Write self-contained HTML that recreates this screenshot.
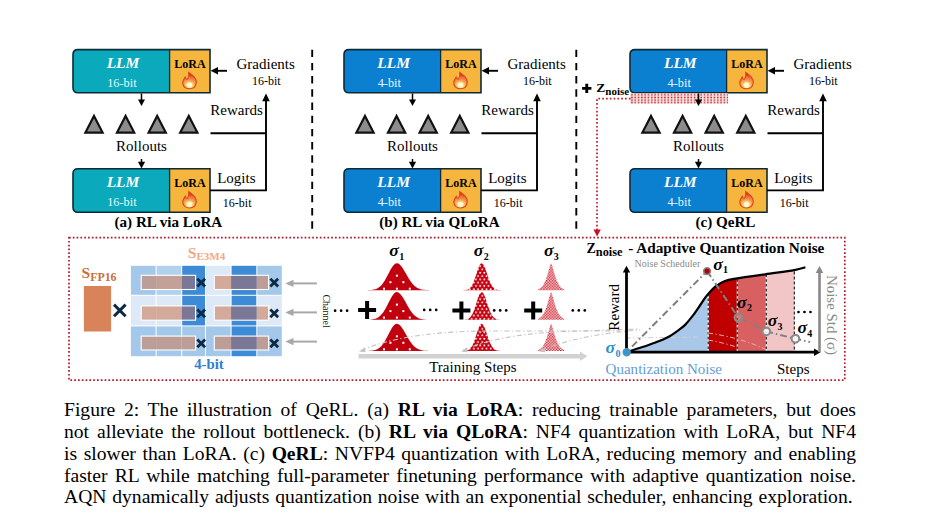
<!DOCTYPE html>
<html><head><meta charset="utf-8">
<style>
html,body{margin:0;padding:0;background:#fff;}
body{width:940px;height:525px;position:relative;overflow:hidden;font-family:"Liberation Serif",serif;}
svg{position:absolute;left:0;top:0;}
.cap{position:absolute;left:64px;width:792px;font-family:"Liberation Serif",serif;font-size:19.6px;line-height:21.85px;color:#000;white-space:nowrap;}
.cap div{text-align:justify;text-align-last:justify;height:21.85px;}
</style></head><body>
<svg width="940" height="525" viewBox="0 0 940 525" font-family="Liberation Serif, serif">
<defs>
  <radialGradient id="fg" cx="0" cy="4" r="10" gradientUnits="userSpaceOnUse">
    <stop offset="0" stop-color="#fffbe8"/><stop offset="0.2" stop-color="#ffe070"/><stop offset="0.45" stop-color="#f59a50"/><stop offset="0.75" stop-color="#ee6a3a"/><stop offset="1" stop-color="#d8361a"/>
  </radialGradient>
  <g id="flame">
    <path d="M-0.6,-8 C2.2,-5.5 5.6,-2.8 5.2,1.8 C4.8,5.8 2.4,7.6 0,7.6 C-2.6,7.6 -5.2,5.8 -5.2,2 C-5.2,-0.5 -4,-2 -3.3,-3.6 C-2.8,-2 -2.2,-1.2 -1.6,-1.6 C-0.6,-3.4 -0.2,-5.5 -0.6,-8 Z" fill="url(#fg)" stroke="#de4418" stroke-width="0.8"/>
    <ellipse cx="0" cy="4.2" rx="2.2" ry="2.6" fill="#fffbe0" opacity="0.85"/>
  </g>
  <pattern id="noisepat" width="3.3" height="2.6" patternUnits="userSpaceOnUse" x="630.3" y="93.6"><rect width="3.3" height="2.6" fill="#f8e2e2"/><circle cx="1.65" cy="1.3" r="0.78" fill="#cc1818"/></pattern>
</defs>

<path d="M78,49.6 H169.6 V92.8 H78 Q73,92.8 73,87.8 V54.6 Q73,49.6 78,49.6 Z" fill="#0aa9bb"/>
<rect x="169.6" y="49.6" width="40.400000000000006" height="43.199999999999996" fill="#f6b53c"/>
<path d="M78,49.6 H210 V92.8 H78 Q73,92.8 73,87.8 V54.6 Q73,49.6 78,49.6 Z" fill="none" stroke="#0e2a36" stroke-width="1.6"/>
<line x1="169.6" y1="49.6" x2="169.6" y2="92.8" stroke="#0e2a36" stroke-width="1.3"/>
<text x="123" y="67.6" font-size="15.5" text-anchor="middle" font-weight="bold" font-style="italic" fill="#fff" >LLM</text>
<text x="121.9" y="87.0" font-size="12.3" text-anchor="middle" font-weight="normal" font-style="normal" fill="#e8f8ff" >16-bit</text>
<text x="190.0" y="67.8" font-size="12" text-anchor="middle" font-weight="bold" font-style="normal" fill="#000" >LoRA</text>
<use href="#flame" transform="translate(189.5,80.8) scale(1.3,1.05)"/>
<path d="M78,168.8 H169.6 V212.3 H78 Q73,212.3 73,207.3 V173.8 Q73,168.8 78,168.8 Z" fill="#0aa9bb"/>
<rect x="169.6" y="168.8" width="40.400000000000006" height="43.5" fill="#f6b53c"/>
<path d="M78,168.8 H210 V212.3 H78 Q73,212.3 73,207.3 V173.8 Q73,168.8 78,168.8 Z" fill="none" stroke="#0e2a36" stroke-width="1.6"/>
<line x1="169.6" y1="168.8" x2="169.6" y2="212.3" stroke="#0e2a36" stroke-width="1.3"/>
<text x="123" y="186.8" font-size="15.5" text-anchor="middle" font-weight="bold" font-style="italic" fill="#fff" >LLM</text>
<text x="121.9" y="206.20000000000002" font-size="12.3" text-anchor="middle" font-weight="normal" font-style="normal" fill="#e8f8ff" >16-bit</text>
<text x="190.0" y="187.0" font-size="12" text-anchor="middle" font-weight="bold" font-style="normal" fill="#000" >LoRA</text>
<use href="#flame" transform="translate(189.5,200.0) scale(1.3,1.05)"/>
<line x1="141.5" y1="93.5" x2="141.5" y2="101" stroke="#000" stroke-width="1.5"/>
<path d="M138.0,99.6 L145.0,99.6 L141.5,106 Z" fill="#000"/>
<line x1="141.5" y1="159" x2="141.5" y2="164" stroke="#000" stroke-width="1.5"/>
<path d="M137.9,161.8 L145.1,161.8 L141.5,168.4 Z" fill="#000"/>
<line x1="227" y1="70.8" x2="215" y2="70.8" stroke="#000" stroke-width="1.9"/>
<path d="M218,67.0 L218,74.6 L210.6,70.8 Z" fill="#000"/>
<text x="236.5" y="69.3" font-size="15" text-anchor="start" font-weight="normal" font-style="normal" fill="#000" >Gradients</text>
<text x="252" y="85" font-size="12" text-anchor="start" font-weight="normal" font-style="normal" fill="#000" >16-bit</text>
<path d="M94,116 L102.6,132.6 L85.4,132.6 Z" fill="#8c8c8c" stroke="#111" stroke-width="2.2" stroke-linejoin="miter"/>
<path d="M125.6,116 L134.2,132.6 L117.0,132.6 Z" fill="#8c8c8c" stroke="#111" stroke-width="2.2" stroke-linejoin="miter"/>
<path d="M157.2,116 L165.79999999999998,132.6 L148.6,132.6 Z" fill="#8c8c8c" stroke="#111" stroke-width="2.2" stroke-linejoin="miter"/>
<path d="M188.8,116 L197.4,132.6 L180.20000000000002,132.6 Z" fill="#8c8c8c" stroke="#111" stroke-width="2.2" stroke-linejoin="miter"/>
<text x="210.3" y="114.5" font-size="15" text-anchor="start" font-weight="normal" font-style="normal" fill="#000" >Rewards</text>
<text x="141.5" y="150.6" font-size="15" text-anchor="middle" font-weight="normal" font-style="normal" fill="#000" >Rollouts</text>
<path d="M210,190.4 H266 V98" fill="none" stroke="#000" stroke-width="1.9"/>
<path d="M262.2,101.2 L269.8,101.2 L266,93.5 Z" fill="#000"/>
<line x1="210.5" y1="133.2" x2="266" y2="133.2" stroke="#000" stroke-width="1.9"/>
<text x="217.2" y="183.4" font-size="15" text-anchor="start" font-weight="normal" font-style="normal" fill="#000" >Logits</text>
<text x="222.8" y="207.3" font-size="12" text-anchor="start" font-weight="normal" font-style="normal" fill="#000" >16-bit</text>
<text x="168.4" y="227.2" font-size="15.1" text-anchor="middle" font-weight="bold" font-style="normal" fill="#000" >(a) RL via LoRA</text>
<path d="M349,49.6 H440.6 V92.8 H349 Q344,92.8 344,87.8 V54.6 Q344,49.6 349,49.6 Z" fill="#0b80d0"/>
<rect x="440.6" y="49.6" width="40.39999999999998" height="43.199999999999996" fill="#f6b53c"/>
<path d="M349,49.6 H481 V92.8 H349 Q344,92.8 344,87.8 V54.6 Q344,49.6 349,49.6 Z" fill="none" stroke="#0e2a36" stroke-width="1.6"/>
<line x1="440.6" y1="49.6" x2="440.6" y2="92.8" stroke="#0e2a36" stroke-width="1.3"/>
<text x="393.6" y="67.6" font-size="15.5" text-anchor="middle" font-weight="bold" font-style="italic" fill="#fff" >LLM</text>
<text x="389.3" y="87.0" font-size="12.3" text-anchor="middle" font-weight="normal" font-style="normal" fill="#e8f8ff" >4-bit</text>
<text x="461.0" y="67.8" font-size="12" text-anchor="middle" font-weight="bold" font-style="normal" fill="#000" >LoRA</text>
<use href="#flame" transform="translate(460.5,80.8) scale(1.3,1.05)"/>
<path d="M349,168.8 H440.6 V212.3 H349 Q344,212.3 344,207.3 V173.8 Q344,168.8 349,168.8 Z" fill="#0b80d0"/>
<rect x="440.6" y="168.8" width="40.39999999999998" height="43.5" fill="#f6b53c"/>
<path d="M349,168.8 H481 V212.3 H349 Q344,212.3 344,207.3 V173.8 Q344,168.8 349,168.8 Z" fill="none" stroke="#0e2a36" stroke-width="1.6"/>
<line x1="440.6" y1="168.8" x2="440.6" y2="212.3" stroke="#0e2a36" stroke-width="1.3"/>
<text x="393.6" y="186.8" font-size="15.5" text-anchor="middle" font-weight="bold" font-style="italic" fill="#fff" >LLM</text>
<text x="389.3" y="206.20000000000002" font-size="12.3" text-anchor="middle" font-weight="normal" font-style="normal" fill="#e8f8ff" >4-bit</text>
<text x="461.0" y="187.0" font-size="12" text-anchor="middle" font-weight="bold" font-style="normal" fill="#000" >LoRA</text>
<use href="#flame" transform="translate(460.5,200.0) scale(1.3,1.05)"/>
<line x1="412.5" y1="93.5" x2="412.5" y2="101" stroke="#000" stroke-width="1.5"/>
<path d="M409.0,99.6 L416.0,99.6 L412.5,106 Z" fill="#000"/>
<line x1="412.5" y1="159" x2="412.5" y2="164" stroke="#000" stroke-width="1.5"/>
<path d="M408.9,161.8 L416.1,161.8 L412.5,168.4 Z" fill="#000"/>
<line x1="498" y1="70.8" x2="486" y2="70.8" stroke="#000" stroke-width="1.9"/>
<path d="M489,67.0 L489,74.6 L481.6,70.8 Z" fill="#000"/>
<text x="507.5" y="69.3" font-size="15" text-anchor="start" font-weight="normal" font-style="normal" fill="#000" >Gradients</text>
<text x="523" y="85" font-size="12" text-anchor="start" font-weight="normal" font-style="normal" fill="#000" >16-bit</text>
<path d="M365,116 L373.6,132.6 L356.4,132.6 Z" fill="#8c8c8c" stroke="#111" stroke-width="2.2" stroke-linejoin="miter"/>
<path d="M396.6,116 L405.20000000000005,132.6 L388.0,132.6 Z" fill="#8c8c8c" stroke="#111" stroke-width="2.2" stroke-linejoin="miter"/>
<path d="M428.2,116 L436.8,132.6 L419.59999999999997,132.6 Z" fill="#8c8c8c" stroke="#111" stroke-width="2.2" stroke-linejoin="miter"/>
<path d="M459.8,116 L468.40000000000003,132.6 L451.2,132.6 Z" fill="#8c8c8c" stroke="#111" stroke-width="2.2" stroke-linejoin="miter"/>
<text x="481.3" y="114.5" font-size="15" text-anchor="start" font-weight="normal" font-style="normal" fill="#000" >Rewards</text>
<text x="412.5" y="150.6" font-size="15" text-anchor="middle" font-weight="normal" font-style="normal" fill="#000" >Rollouts</text>
<path d="M481,190.4 H537 V98" fill="none" stroke="#000" stroke-width="1.9"/>
<path d="M533.2,101.2 L540.8,101.2 L537,93.5 Z" fill="#000"/>
<line x1="481.5" y1="133.2" x2="537" y2="133.2" stroke="#000" stroke-width="1.9"/>
<text x="488.2" y="183.4" font-size="15" text-anchor="start" font-weight="normal" font-style="normal" fill="#000" >Logits</text>
<text x="493.8" y="207.3" font-size="12" text-anchor="start" font-weight="normal" font-style="normal" fill="#000" >16-bit</text>
<text x="439.4" y="227.2" font-size="15.1" text-anchor="middle" font-weight="bold" font-style="normal" fill="#000" >(b) RL via QLoRA</text>
<path d="M635,49.6 H726.6 V92.8 H635 Q630,92.8 630,87.8 V54.6 Q630,49.6 635,49.6 Z" fill="#0b80d0"/>
<rect x="726.6" y="49.6" width="40.39999999999998" height="43.199999999999996" fill="#f6b53c"/>
<path d="M635,49.6 H767 V92.8 H635 Q630,92.8 630,87.8 V54.6 Q630,49.6 635,49.6 Z" fill="none" stroke="#0e2a36" stroke-width="1.6"/>
<line x1="726.6" y1="49.6" x2="726.6" y2="92.8" stroke="#0e2a36" stroke-width="1.3"/>
<text x="680.3" y="67.6" font-size="15.5" text-anchor="middle" font-weight="bold" font-style="italic" fill="#fff" >LLM</text>
<text x="679.2" y="87.0" font-size="12.3" text-anchor="middle" font-weight="normal" font-style="normal" fill="#e8f8ff" >4-bit</text>
<text x="747.0" y="67.8" font-size="12" text-anchor="middle" font-weight="bold" font-style="normal" fill="#000" >LoRA</text>
<use href="#flame" transform="translate(746.5,80.8) scale(1.3,1.05)"/>
<rect x="630" y="93.3" width="98.10000000000002" height="10.5" fill="url(#noisepat)"/>
<path d="M635,168.8 H726.6 V212.3 H635 Q630,212.3 630,207.3 V173.8 Q630,168.8 635,168.8 Z" fill="#0b80d0"/>
<rect x="726.6" y="168.8" width="40.39999999999998" height="43.5" fill="#f6b53c"/>
<path d="M635,168.8 H767 V212.3 H635 Q630,212.3 630,207.3 V173.8 Q630,168.8 635,168.8 Z" fill="none" stroke="#0e2a36" stroke-width="1.6"/>
<line x1="726.6" y1="168.8" x2="726.6" y2="212.3" stroke="#0e2a36" stroke-width="1.3"/>
<text x="680.3" y="186.8" font-size="15.5" text-anchor="middle" font-weight="bold" font-style="italic" fill="#fff" >LLM</text>
<text x="679.2" y="206.20000000000002" font-size="12.3" text-anchor="middle" font-weight="normal" font-style="normal" fill="#e8f8ff" >4-bit</text>
<text x="747.0" y="187.0" font-size="12" text-anchor="middle" font-weight="bold" font-style="normal" fill="#000" >LoRA</text>
<use href="#flame" transform="translate(746.5,200.0) scale(1.3,1.05)"/>
<line x1="698.5" y1="93.5" x2="698.5" y2="101" stroke="#000" stroke-width="1.5"/>
<path d="M695.0,99.6 L702.0,99.6 L698.5,106 Z" fill="#000"/>
<line x1="698.5" y1="159" x2="698.5" y2="164" stroke="#000" stroke-width="1.5"/>
<path d="M694.9,161.8 L702.1,161.8 L698.5,168.4 Z" fill="#000"/>
<line x1="784" y1="70.8" x2="772" y2="70.8" stroke="#000" stroke-width="1.9"/>
<path d="M775,67.0 L775,74.6 L767.6,70.8 Z" fill="#000"/>
<text x="793.5" y="69.3" font-size="15" text-anchor="start" font-weight="normal" font-style="normal" fill="#000" >Gradients</text>
<text x="809" y="85" font-size="12" text-anchor="start" font-weight="normal" font-style="normal" fill="#000" >16-bit</text>
<path d="M651,116 L659.6,132.6 L642.4,132.6 Z" fill="#8c8c8c" stroke="#111" stroke-width="2.2" stroke-linejoin="miter"/>
<path d="M682.6,116 L691.2,132.6 L674.0,132.6 Z" fill="#8c8c8c" stroke="#111" stroke-width="2.2" stroke-linejoin="miter"/>
<path d="M714.2,116 L722.8000000000001,132.6 L705.6,132.6 Z" fill="#8c8c8c" stroke="#111" stroke-width="2.2" stroke-linejoin="miter"/>
<path d="M745.8,116 L754.4,132.6 L737.1999999999999,132.6 Z" fill="#8c8c8c" stroke="#111" stroke-width="2.2" stroke-linejoin="miter"/>
<text x="767.3" y="114.5" font-size="15" text-anchor="start" font-weight="normal" font-style="normal" fill="#000" >Rewards</text>
<text x="698.5" y="150.6" font-size="15" text-anchor="middle" font-weight="normal" font-style="normal" fill="#000" >Rollouts</text>
<path d="M767,190.4 H823 V98" fill="none" stroke="#000" stroke-width="1.9"/>
<path d="M819.2,101.2 L826.8,101.2 L823,93.5 Z" fill="#000"/>
<line x1="767.5" y1="133.2" x2="823" y2="133.2" stroke="#000" stroke-width="1.9"/>
<text x="774.2" y="183.4" font-size="15" text-anchor="start" font-weight="normal" font-style="normal" fill="#000" >Logits</text>
<text x="779.8" y="207.3" font-size="12" text-anchor="start" font-weight="normal" font-style="normal" fill="#000" >16-bit</text>
<text x="725.4" y="227.2" font-size="15.1" text-anchor="middle" font-weight="bold" font-style="normal" fill="#000" >(c) QeRL</text>
<line x1="312.2" y1="49.7" x2="312.2" y2="231" stroke="#000" stroke-width="1.9" stroke-dasharray="7.4,5.8"/>
<line x1="576.3" y1="49.7" x2="576.3" y2="231" stroke="#000" stroke-width="1.9" stroke-dasharray="7.4,5.8"/>
<path d="M582.1,88.4 H591.4 M586.75,83.7 V93.0" stroke="#000" stroke-width="2.9"/>
<text x="596.3" y="91.7" font-size="13.5" font-weight="bold">Z<tspan font-size="11" dy="3.3">noise</tspan></text>
<path d="M630.5,98.6 H597 V230" fill="none" stroke="#c0202a" stroke-width="1.7" stroke-dasharray="1.7,2.1"/>
<path d="M593.4,229.6 L600.8,229.6 L597.1,236.6 Z" fill="#c8102a"/>
<rect x="69" y="237.6" width="775.8" height="142.5" fill="none" stroke="#b3182a" stroke-width="1.7" stroke-dasharray="1.7,2.1"/>
<text x="81.5" y="277.8" font-size="15.5" font-weight="bold" fill="#c8703c">S<tspan font-size="11.9" dy="2.7">FP16</tspan></text>
<rect x="83.9" y="286" width="27.2" height="45.5" fill="#d9835a"/>
<path d="M114.0,304.59999999999997 L125.6,316.2 M125.6,304.59999999999997 L114.0,316.2" stroke="#0d2a42" stroke-width="3.0"/>
<text x="187.8" y="257.9" font-size="15.5" font-weight="bold" fill="#f0a888">S<tspan font-size="11" dy="2.5">E3M4</tspan></text>
<rect x="130.9" y="265.8" width="24.70" height="29.00" fill="#a4c8ea"/>
<rect x="156.6" y="265.8" width="24.60" height="29.00" fill="#b2d1ee"/>
<rect x="182.2" y="265.8" width="22.80" height="29.00" fill="#3d8bd6"/>
<rect x="206.0" y="265.8" width="24.60" height="29.00" fill="#dde9f6"/>
<rect x="231.6" y="265.8" width="24.70" height="29.00" fill="#3d8bd6"/>
<rect x="257.3" y="265.8" width="24.50" height="29.00" fill="#a4c8ea"/>
<rect x="130.9" y="295.8" width="24.70" height="29.60" fill="#dde9f6"/>
<rect x="156.6" y="295.8" width="24.60" height="29.60" fill="#dde9f6"/>
<rect x="182.2" y="295.8" width="22.80" height="29.60" fill="#3d8bd6"/>
<rect x="206.0" y="295.8" width="24.60" height="29.60" fill="#dde9f6"/>
<rect x="231.6" y="295.8" width="24.70" height="29.60" fill="#3d8bd6"/>
<rect x="257.3" y="295.8" width="24.50" height="29.60" fill="#dde9f6"/>
<rect x="130.9" y="326.4" width="24.70" height="29.80" fill="#a4c8ea"/>
<rect x="156.6" y="326.4" width="24.60" height="29.80" fill="#a4c8ea"/>
<rect x="182.2" y="326.4" width="22.80" height="29.80" fill="#a4c8ea"/>
<rect x="206.0" y="326.4" width="24.60" height="29.80" fill="#a4c8ea"/>
<rect x="231.6" y="326.4" width="24.70" height="29.80" fill="#3d8bd6"/>
<rect x="257.3" y="326.4" width="24.50" height="29.80" fill="#a4c8ea"/>
<rect x="141.20" y="275.3" width="14.90" height="14.20" fill="#bd9d97"/>
<rect x="156.10" y="275.3" width="25.60" height="14.20" fill="#c3a098"/>
<rect x="181.70" y="275.3" width="13.90" height="14.20" fill="#7a7896"/>
<rect x="141.2" y="275.3" width="54.40" height="14.20" fill="none" stroke="#fff" stroke-width="1.1"/>
<path d="M197.29999999999998,278.8 L205.1,286.59999999999997 M205.1,278.8 L197.29999999999998,286.59999999999997" stroke="#0d2a42" stroke-width="2.8"/>
<rect x="214.30" y="275.3" width="16.80" height="14.20" fill="#d3a99b"/>
<rect x="231.10" y="275.3" width="25.70" height="14.20" fill="#7a7896"/>
<rect x="256.80" y="275.3" width="11.80" height="14.20" fill="#bd9d97"/>
<rect x="214.3" y="275.3" width="54.30" height="14.20" fill="none" stroke="#fff" stroke-width="1.1"/>
<path d="M270.30000000000007,278.8 L278.1,286.59999999999997 M278.1,278.8 L270.30000000000007,286.59999999999997" stroke="#0d2a42" stroke-width="2.8"/>
<rect x="141.20" y="305.9" width="14.90" height="14.30" fill="#d3a99b"/>
<rect x="156.10" y="305.9" width="25.60" height="14.30" fill="#d3a99b"/>
<rect x="181.70" y="305.9" width="13.90" height="14.30" fill="#7a7896"/>
<rect x="141.2" y="305.9" width="54.40" height="14.30" fill="none" stroke="#fff" stroke-width="1.1"/>
<path d="M197.29999999999998,309.45 L205.1,317.24999999999994 M205.1,309.45 L197.29999999999998,317.24999999999994" stroke="#0d2a42" stroke-width="2.8"/>
<rect x="214.30" y="305.9" width="16.80" height="14.30" fill="#d3a99b"/>
<rect x="231.10" y="305.9" width="25.70" height="14.30" fill="#7a7896"/>
<rect x="256.80" y="305.9" width="11.80" height="14.30" fill="#d3a99b"/>
<rect x="214.3" y="305.9" width="54.30" height="14.30" fill="none" stroke="#fff" stroke-width="1.1"/>
<path d="M270.30000000000007,309.45 L278.1,317.24999999999994 M278.1,309.45 L270.30000000000007,317.24999999999994" stroke="#0d2a42" stroke-width="2.8"/>
<rect x="141.20" y="336.1" width="14.90" height="13.90" fill="#bd9d97"/>
<rect x="156.10" y="336.1" width="25.60" height="13.90" fill="#bd9d97"/>
<rect x="181.70" y="336.1" width="13.90" height="13.90" fill="#bd9d97"/>
<rect x="141.2" y="336.1" width="54.40" height="13.90" fill="none" stroke="#fff" stroke-width="1.1"/>
<path d="M197.29999999999998,339.45000000000005 L205.1,347.25 M205.1,339.45000000000005 L197.29999999999998,347.25" stroke="#0d2a42" stroke-width="2.8"/>
<rect x="214.30" y="336.1" width="16.80" height="13.90" fill="#bd9d97"/>
<rect x="231.10" y="336.1" width="25.70" height="13.90" fill="#7a7896"/>
<rect x="256.80" y="336.1" width="11.80" height="13.90" fill="#bd9d97"/>
<rect x="214.3" y="336.1" width="54.30" height="13.90" fill="none" stroke="#fff" stroke-width="1.1"/>
<path d="M270.30000000000007,339.45000000000005 L278.1,347.25 M278.1,339.45000000000005 L270.30000000000007,347.25" stroke="#0d2a42" stroke-width="2.8"/>
<text x="194.2" y="369.2" font-size="14.8" font-weight="bold" fill="#2f80cc">4-bit</text>
<line x1="316.9" y1="283.4" x2="291" y2="283.4" stroke="#a8a8a8" stroke-width="2"/>
<path d="M293.5,279.79999999999995 L293.5,287.0 L285.3,283.4 Z" fill="#a8a8a8"/>
<line x1="316.9" y1="312.4" x2="291" y2="312.4" stroke="#a8a8a8" stroke-width="2"/>
<path d="M293.5,308.79999999999995 L293.5,316.0 L285.3,312.4 Z" fill="#a8a8a8"/>
<line x1="316.9" y1="341.6" x2="291" y2="341.6" stroke="#a8a8a8" stroke-width="2"/>
<path d="M293.5,338.0 L293.5,345.20000000000005 L285.3,341.6 Z" fill="#a8a8a8"/>
<text x="0" y="0" font-size="10" transform="translate(323.4,294.4) rotate(90)" fill="#111">Channel</text>
<circle cx="335.1" cy="310.7" r="1.35" fill="#000"/>
<circle cx="341.1" cy="310.7" r="1.35" fill="#000"/>
<circle cx="347.1" cy="310.7" r="1.35" fill="#000"/>
<path d="M358.1,309.9 H376.1 M367.1,300.9 V318.9" stroke="#000" stroke-width="4"/>
<path d="M452.4,310.4 H470.4 M461.4,301.4 V319.4" stroke="#000" stroke-width="4"/>
<path d="M524.2,310.4 H542.2 M533.2,301.4 V319.4" stroke="#000" stroke-width="4"/>
<circle cx="424.2" cy="309.9" r="1.35" fill="#000"/>
<circle cx="430.2" cy="309.9" r="1.35" fill="#000"/>
<circle cx="436.2" cy="309.9" r="1.35" fill="#000"/>
<circle cx="494.2" cy="310.4" r="1.35" fill="#000"/>
<circle cx="500.2" cy="310.4" r="1.35" fill="#000"/>
<circle cx="506.2" cy="310.4" r="1.35" fill="#000"/>
<circle cx="572.8" cy="310.4" r="1.35" fill="#000"/>
<circle cx="578.8" cy="310.4" r="1.35" fill="#000"/>
<circle cx="584.8" cy="310.4" r="1.35" fill="#000"/>
<defs>
<pattern id="p2" width="4.2" height="6.6" patternUnits="userSpaceOnUse" x="0.3" y="0.5"><rect width="4.2" height="6.6" fill="#c4000e"/><circle cx="1.05" cy="1.65" r="0.95" fill="#fff"/><circle cx="3.15" cy="4.95" r="0.95" fill="#fff"/></pattern>
<pattern id="p3" width="2.8" height="2.8" patternUnits="userSpaceOnUse"><rect width="2.8" height="2.8" fill="#fff"/><rect width="1.5" height="1.5" fill="#d01020"/><rect x="1.4" y="1.4" width="1.5" height="1.5" fill="#d01020"/></pattern>
</defs>
<path d="M364.8,290.2 L365.80,290.17 L367.16,290.15 L368.51,290.11 L369.87,290.04 L371.23,289.94 L372.58,289.78 L373.94,289.54 L375.29,289.18 L376.65,288.68 L378.01,287.99 L379.36,287.07 L380.72,285.88 L382.08,284.39 L383.43,282.59 L384.79,280.49 L386.14,278.12 L387.50,275.57 L388.86,272.94 L390.21,270.35 L391.57,267.96 L392.93,265.93 L394.28,264.39 L395.64,263.46 L396.99,263.21 L398.35,263.58 L399.71,264.50 L401.06,265.93 L402.42,267.76 L403.78,269.89 L405.13,272.22 L406.49,274.62 L407.84,276.98 L409.20,279.23 L410.56,281.29 L411.91,283.11 L413.27,284.68 L414.62,286.00 L415.98,287.07 L417.34,287.92 L418.69,288.57 L420.05,289.06 L421.41,289.42 L422.76,289.68 L424.12,289.86 L425.48,289.98 L426.83,290.06 L428.19,290.12 L429.54,290.15 L430.90,290.17 L431.90000000000003,290.2 Z" fill="#c0000e"/>
<rect x="395.9" y="274.7" width="2" height="2" fill="#fff"/>
<rect x="389.45" y="281.2" width="2" height="2" fill="#fff"/>
<rect x="402.34999999999997" y="281.2" width="2" height="2" fill="#fff"/>
<rect x="383.0" y="287.7" width="2" height="2" fill="#fff"/>
<rect x="395.9" y="287.7" width="2" height="2" fill="#fff"/>
<rect x="408.79999999999995" y="287.7" width="2" height="2" fill="#fff"/>
<path d="M462.1,290.2 L463.10,290.15 L463.89,290.12 L464.68,290.06 L465.47,289.98 L466.26,289.85 L467.05,289.66 L467.84,289.39 L468.63,289.00 L469.42,288.46 L470.21,287.75 L471.00,286.82 L471.79,285.64 L472.58,284.20 L473.37,282.48 L474.16,280.49 L474.95,278.28 L475.74,275.89 L476.53,273.41 L477.32,270.95 L478.11,268.64 L478.90,266.60 L479.69,264.96 L480.48,263.82 L481.27,263.25 L482.06,263.30 L482.85,263.90 L483.64,265.02 L484.43,266.60 L485.22,268.54 L486.01,270.72 L486.80,273.05 L487.59,275.42 L488.38,277.72 L489.17,279.88 L489.96,281.85 L490.75,283.58 L491.54,285.06 L492.33,286.29 L493.12,287.29 L493.91,288.08 L494.70,288.68 L495.49,289.14 L496.28,289.47 L497.07,289.71 L497.86,289.88 L498.65,289.99 L499.44,290.07 L500.23,290.12 L501.03,290.15 L502.02500000000003,290.2 Z" fill="url(#p2)"/>
<path d="M537.7,290.2 L538.70,288.93 L539.22,288.69 L539.73,288.40 L540.25,288.07 L540.77,287.68 L541.28,287.23 L541.80,286.71 L542.32,286.11 L542.83,285.43 L543.35,284.66 L543.87,283.79 L544.38,282.82 L544.90,281.73 L545.42,280.53 L545.93,279.20 L546.45,277.76 L546.97,276.21 L547.48,274.55 L548.00,272.80 L548.52,270.99 L549.03,269.15 L549.55,267.34 L550.07,265.63 L550.58,264.15 L551.10,263.20 L551.62,264.15 L552.13,265.63 L552.65,267.34 L553.17,269.15 L553.68,270.99 L554.20,272.80 L554.72,274.55 L555.23,276.21 L555.75,277.76 L556.27,279.20 L556.78,280.53 L557.30,281.73 L557.82,282.82 L558.33,283.79 L558.85,284.66 L559.37,285.43 L559.88,286.11 L560.40,286.71 L560.92,287.23 L561.43,287.68 L561.95,288.07 L562.47,288.40 L562.98,288.69 L563.50,288.93 L564.5,290.2 Z" fill="url(#p3)"/>
<path d="M364.8,319.8 L365.80,319.77 L367.16,319.75 L368.51,319.70 L369.87,319.64 L371.23,319.53 L372.58,319.37 L373.94,319.12 L375.29,318.76 L376.65,318.24 L378.01,317.53 L379.36,316.59 L380.72,315.37 L382.08,313.84 L383.43,311.99 L384.79,309.84 L386.14,307.41 L387.50,304.79 L388.86,302.09 L390.21,299.43 L391.57,296.98 L392.93,294.90 L394.28,293.32 L395.64,292.36 L396.99,292.11 L398.35,292.49 L399.71,293.44 L401.06,294.90 L402.42,296.78 L403.78,298.97 L405.13,301.35 L406.49,303.81 L407.84,306.24 L409.20,308.54 L410.56,310.65 L411.91,312.53 L413.27,314.14 L414.62,315.49 L415.98,316.59 L417.34,317.46 L418.69,318.13 L420.05,318.63 L421.41,319.00 L422.76,319.27 L424.12,319.45 L425.48,319.58 L426.83,319.66 L428.19,319.71 L429.54,319.75 L430.90,319.77 L431.90000000000003,319.8 Z" fill="#c0000e"/>
<rect x="395.9" y="303.6" width="2" height="2" fill="#fff"/>
<rect x="389.45" y="310.1" width="2" height="2" fill="#fff"/>
<rect x="402.34999999999997" y="310.1" width="2" height="2" fill="#fff"/>
<rect x="383.0" y="316.6" width="2" height="2" fill="#fff"/>
<rect x="395.9" y="316.6" width="2" height="2" fill="#fff"/>
<rect x="408.79999999999995" y="316.6" width="2" height="2" fill="#fff"/>
<path d="M462.1,319.8 L463.10,319.75 L463.89,319.72 L464.68,319.66 L465.47,319.57 L466.26,319.44 L467.05,319.25 L467.84,318.96 L468.63,318.56 L469.42,318.02 L470.21,317.28 L471.00,316.33 L471.79,315.12 L472.58,313.64 L473.37,311.88 L474.16,309.84 L474.95,307.57 L475.74,305.12 L476.53,302.57 L477.32,300.05 L478.11,297.68 L478.90,295.59 L479.69,293.90 L480.48,292.73 L481.27,292.15 L482.06,292.20 L482.85,292.82 L483.64,293.97 L484.43,295.59 L485.22,297.57 L486.01,299.82 L486.80,302.21 L487.59,304.63 L488.38,307.00 L489.17,309.21 L489.96,311.23 L490.75,313.01 L491.54,314.52 L492.33,315.79 L493.12,316.81 L493.91,317.62 L494.70,318.25 L495.49,318.71 L496.28,319.06 L497.07,319.30 L497.86,319.47 L498.65,319.59 L499.44,319.67 L500.23,319.72 L501.03,319.75 L502.02500000000003,319.8 Z" fill="url(#p2)"/>
<path d="M537.7,319.8 L538.70,318.50 L539.22,318.25 L539.73,317.95 L540.25,317.61 L540.77,317.21 L541.28,316.75 L541.80,316.22 L542.32,315.61 L542.83,314.91 L543.35,314.12 L543.87,313.23 L544.38,312.23 L544.90,311.11 L545.42,309.88 L545.93,308.52 L546.45,307.04 L546.97,305.44 L547.48,303.74 L548.00,301.95 L548.52,300.09 L549.03,298.21 L549.55,296.35 L550.07,294.59 L550.58,293.07 L551.10,292.10 L551.62,293.07 L552.13,294.59 L552.65,296.35 L553.17,298.21 L553.68,300.09 L554.20,301.95 L554.72,303.74 L555.23,305.44 L555.75,307.04 L556.27,308.52 L556.78,309.88 L557.30,311.11 L557.82,312.23 L558.33,313.23 L558.85,314.12 L559.37,314.91 L559.88,315.61 L560.40,316.22 L560.92,316.75 L561.43,317.21 L561.95,317.61 L562.47,317.95 L562.98,318.25 L563.50,318.50 L564.5,319.8 Z" fill="url(#p3)"/>
<path d="M364.8,351.0 L365.80,350.97 L367.16,350.95 L368.51,350.91 L369.87,350.84 L371.23,350.74 L372.58,350.57 L373.94,350.33 L375.29,349.97 L376.65,349.47 L378.01,348.77 L379.36,347.85 L380.72,346.65 L382.08,345.15 L383.43,343.33 L384.79,341.22 L386.14,338.84 L387.50,336.26 L388.86,333.61 L390.21,331.00 L391.57,328.59 L392.93,326.55 L394.28,325.00 L395.64,324.06 L396.99,323.81 L398.35,324.18 L399.71,325.11 L401.06,326.55 L402.42,328.39 L403.78,330.54 L405.13,332.89 L406.49,335.30 L407.84,337.68 L409.20,339.95 L410.56,342.02 L411.91,343.86 L413.27,345.44 L414.62,346.77 L415.98,347.85 L417.34,348.70 L418.69,349.36 L420.05,349.85 L421.41,350.22 L422.76,350.47 L424.12,350.66 L425.48,350.78 L426.83,350.86 L428.19,350.92 L429.54,350.95 L430.90,350.97 L431.90000000000003,351.0 Z" fill="#c0000e"/>
<rect x="395.9" y="335.3" width="2" height="2" fill="#fff"/>
<rect x="389.45" y="341.8" width="2" height="2" fill="#fff"/>
<rect x="402.34999999999997" y="341.8" width="2" height="2" fill="#fff"/>
<rect x="383.0" y="348.3" width="2" height="2" fill="#fff"/>
<rect x="395.9" y="348.3" width="2" height="2" fill="#fff"/>
<rect x="408.79999999999995" y="348.3" width="2" height="2" fill="#fff"/>
<path d="M462.1,351.0 L463.10,350.95 L463.89,350.92 L464.68,350.86 L465.47,350.78 L466.26,350.65 L467.05,350.46 L467.84,350.18 L468.63,349.79 L469.42,349.25 L470.21,348.53 L471.00,347.59 L471.79,346.41 L472.58,344.96 L473.37,343.22 L474.16,341.22 L474.95,338.99 L475.74,336.58 L476.53,334.08 L477.32,331.61 L478.11,329.28 L478.90,327.23 L479.69,325.57 L480.48,324.42 L481.27,323.85 L482.06,323.90 L482.85,324.51 L483.64,325.64 L484.43,327.23 L485.22,329.17 L486.01,331.38 L486.80,333.73 L487.59,336.11 L488.38,338.43 L489.17,340.61 L489.96,342.58 L490.75,344.33 L491.54,345.82 L492.33,347.06 L493.12,348.07 L493.91,348.86 L494.70,349.47 L495.49,349.93 L496.28,350.27 L497.07,350.51 L497.86,350.68 L498.65,350.79 L499.44,350.87 L500.23,350.92 L501.03,350.95 L502.02500000000003,351.0 Z" fill="url(#p2)"/>
<path d="M537.7,351.0 L538.70,349.72 L539.22,349.48 L539.73,349.19 L540.25,348.85 L540.77,348.46 L541.28,348.00 L541.80,347.48 L542.32,346.88 L542.83,346.20 L543.35,345.42 L543.87,344.55 L544.38,343.56 L544.90,342.47 L545.42,341.26 L545.93,339.92 L546.45,338.47 L546.97,336.90 L547.48,335.23 L548.00,333.47 L548.52,331.65 L549.03,329.80 L549.55,327.97 L550.07,326.25 L550.58,324.76 L551.10,323.80 L551.62,324.76 L552.13,326.25 L552.65,327.97 L553.17,329.80 L553.68,331.65 L554.20,333.47 L554.72,335.23 L555.23,336.90 L555.75,338.47 L556.27,339.92 L556.78,341.26 L557.30,342.47 L557.82,343.56 L558.33,344.55 L558.85,345.42 L559.37,346.20 L559.88,346.88 L560.40,347.48 L560.92,348.00 L561.43,348.46 L561.95,348.85 L562.47,349.19 L562.98,349.48 L563.50,349.72 L564.5,351.0 Z" fill="url(#p3)"/>
<text x="389.3" y="256.4" font-size="16.5" font-weight="bold" font-style="italic" fill="#000" textLength="9.6" lengthAdjust="spacingAndGlyphs">σ</text>
<text x="399.20000000000005" y="260.2" font-size="10" font-weight="bold" fill="#000">1</text>
<text x="473.8" y="256.4" font-size="16.5" font-weight="bold" font-style="italic" fill="#000" textLength="9.6" lengthAdjust="spacingAndGlyphs">σ</text>
<text x="483.70000000000005" y="260.2" font-size="10" font-weight="bold" fill="#000">2</text>
<text x="543.9" y="256.4" font-size="16.5" font-weight="bold" font-style="italic" fill="#000" textLength="9.6" lengthAdjust="spacingAndGlyphs">σ</text>
<text x="553.8" y="260.2" font-size="10" font-weight="bold" fill="#000">3</text>
<path d="M358.6,353.9 H580 V351.4 L587.5,356.2 L580,361 V358.6 H358.6 Z" fill="#d2d2d2"/>
<text x="472.9" y="372.3" font-size="15" text-anchor="middle">Training Steps</text>
<path d="M361,350.5 C390,338 430,332 480,331 L620,331" stroke="#c4c4c4" stroke-width="1.1" fill="none" stroke-dasharray="5,2.5,1.2,2.5"/>
<path d="M463,350.5 C490,338 530,332 580,331 L640,329" stroke="#c4c4c4" stroke-width="1.1" fill="none" stroke-dasharray="5,2.5,1.2,2.5"/>
<path d="M541,350.5 C565,340 600,333 640,330" stroke="#c4c4c4" stroke-width="1.1" fill="none" stroke-dasharray="5,2.5,1.2,2.5"/>
<path d="M359,351.5 L365,347.3 L365.5,352.3 Z" fill="#c4c4c4"/>
<path d="M461,351.5 L467,347.3 L467.5,352.3 Z" fill="#c4c4c4"/>
<path d="M539,351.5 L545,347.3 L545.5,352.3 Z" fill="#c4c4c4"/>
<text x="586.5" y="252.6" font-size="14" font-weight="bold">Z<tspan font-size="12.3" dy="3.3">noise</tspan></text>
<text x="628.2" y="252.6" font-size="15.2" font-weight="bold" textLength="196.2" lengthAdjust="spacingAndGlyphs">- Adaptive Quantization Noise</text>
<text x="634.5" y="267.3" font-size="10" fill="#8a8a8a">Noise Scheduler</text>
<defs><clipPath id="under"><path d="M626.7,352.0 C629.20,351.22 636.78,348.93 641.7,347.3 C646.62,345.67 651.85,343.88 656.2,342.2 C660.55,340.52 664.18,339.13 667.8,337.2 C671.42,335.27 675.02,332.65 677.9,330.6 C680.78,328.55 682.68,327.30 685.1,324.9 C687.52,322.50 689.98,319.35 692.4,316.2 C694.82,313.05 697.43,309.13 699.6,306 C701.77,302.87 703.72,299.68 705.4,297.4 C707.08,295.12 708.02,294.12 709.7,292.3 C711.38,290.48 712.95,288.38 715.5,286.5 C718.05,284.62 721.37,282.35 725,281.0 C728.63,279.65 730.60,279.52 737.3,278.4 C744.00,277.28 755.70,275.67 765.2,274.3 C774.70,272.93 787.60,271.37 794.3,270.2 C801.00,269.03 803.55,267.78 805.4,267.3 L805.4,352.2 L626.7,352.2 Z"/></clipPath></defs>
<g clip-path="url(#under)">
<rect x="626.7" y="260" width="81.5" height="93" fill="#a9c8e9"/>
<rect x="708.2" y="260" width="29.1" height="93" fill="#c00000"/>
<rect x="737.3" y="260" width="29" height="93" fill="#d96060"/>
<rect x="766.3" y="260" width="28" height="93" fill="#f2c6c6"/>
<line x1="708.2" y1="260" x2="708.2" y2="352" stroke="#fff" stroke-width="1.2"/>
<line x1="708.2" y1="260" x2="708.2" y2="352" stroke="#2a1a1a" stroke-width="1.2" stroke-dasharray="2.6,2.2"/>
<line x1="737.3" y1="260" x2="737.3" y2="352" stroke="#fff" stroke-width="1.2"/>
<line x1="737.3" y1="260" x2="737.3" y2="352" stroke="#2a1a1a" stroke-width="1.2" stroke-dasharray="2.6,2.2"/>
<line x1="766.3" y1="260" x2="766.3" y2="352" stroke="#fff" stroke-width="1.2"/>
<line x1="766.3" y1="260" x2="766.3" y2="352" stroke="#2a1a1a" stroke-width="1.2" stroke-dasharray="2.6,2.2"/>
</g>
<line x1="794.3" y1="271.5" x2="794.3" y2="352" stroke="#000" stroke-width="1" stroke-dasharray="3,2"/>
<path d="M708,333 C730,336 750,342 765,349" stroke="#eeaaaa" stroke-width="1" fill="none" stroke-dasharray="5,2.5,1.2,2.5"/>
<path d="M708,340 C720,342 730,345 737,347" stroke="#eeaaaa" stroke-width="1" fill="none" stroke-dasharray="5,2.5,1.2,2.5"/>
<path d="M626,338 L700,337" stroke="#d0d0d0" stroke-width="1" stroke-dasharray="5,2.5,1.2,2.5"/>
<path d="M626.7,352.0 C629.20,351.22 636.78,348.93 641.7,347.3 C646.62,345.67 651.85,343.88 656.2,342.2 C660.55,340.52 664.18,339.13 667.8,337.2 C671.42,335.27 675.02,332.65 677.9,330.6 C680.78,328.55 682.68,327.30 685.1,324.9 C687.52,322.50 689.98,319.35 692.4,316.2 C694.82,313.05 697.43,309.13 699.6,306 C701.77,302.87 703.72,299.68 705.4,297.4 C707.08,295.12 708.02,294.12 709.7,292.3 C711.38,290.48 712.95,288.38 715.5,286.5 C718.05,284.62 721.37,282.35 725,281.0 C728.63,279.65 730.60,279.52 737.3,278.4 C744.00,277.28 755.70,275.67 765.2,274.3 C774.70,272.93 787.60,271.37 794.3,270.2 C801.00,269.03 803.55,267.78 805.4,267.3" fill="none" stroke="#000" stroke-width="2.2"/>
<path d="M626.5,352.2 V270.5" stroke="#000" stroke-width="2.8"/>
<path d="M622.8,272.5 L630.2,272.5 L626.5,265.7 Z" fill="#000"/>
<path d="M625.5,352.2 H816" stroke="#000" stroke-width="2.8"/>
<path d="M814,348.5 L814,355.9 L820.6,352.2 Z" fill="#000"/>
<path d="M819.5,352 V271" stroke="#888" stroke-width="2.6"/>
<path d="M815.7,273 L823.3,273 L819.5,266 Z" fill="#888"/>
<path d="M632,346.6 L707.1,271.1" stroke="#808080" stroke-width="2" fill="none" stroke-dasharray="7,3,1.5,3"/>
<path d="M707.1,271.1 L738.4,317.6 L766.3,331.4 L795.4,338.8 L810,342.1" stroke="#808080" stroke-width="2" fill="none" stroke-dasharray="7,3,1.5,3"/>
<circle cx="707.1" cy="271.1" r="3.4" fill="#b00000" stroke="#888" stroke-width="1.6"/>
<circle cx="738.4" cy="317.6" r="3.8" fill="#fff" fill-opacity="0.15" stroke="#8a8a8a" stroke-width="2.1"/>
<circle cx="766.3" cy="331.4" r="3.8" fill="#fff" fill-opacity="0.85" stroke="#8a8a8a" stroke-width="2.1"/>
<circle cx="795.4" cy="338.8" r="3.8" fill="#fff" fill-opacity="0.9" stroke="#8a8a8a" stroke-width="2.1"/>
<circle cx="626.7" cy="352.2" r="3.6" fill="#2a9ad8" stroke="#6a8aa0" stroke-width="1.2"/>
<text x="713.2" y="269.5" font-size="16.5" font-weight="bold" font-style="italic" fill="#000" textLength="9.6" lengthAdjust="spacingAndGlyphs">σ</text>
<text x="723.1" y="273.3" font-size="10" font-weight="bold" fill="#000">1</text>
<text x="737.1" y="307.5" font-size="16.5" font-weight="bold" font-style="italic" fill="#000" textLength="9.6" lengthAdjust="spacingAndGlyphs">σ</text>
<text x="747.0" y="311.3" font-size="10" font-weight="bold" fill="#000">2</text>
<text x="767.7" y="326.0" font-size="16.5" font-weight="bold" font-style="italic" fill="#000" textLength="9.6" lengthAdjust="spacingAndGlyphs">σ</text>
<text x="777.6" y="329.8" font-size="10" font-weight="bold" fill="#000">3</text>
<text x="797.4" y="333.2" font-size="16.5" font-weight="bold" font-style="italic" fill="#000" textLength="9.6" lengthAdjust="spacingAndGlyphs">σ</text>
<text x="807.3" y="337.0" font-size="10" font-weight="bold" fill="#000">4</text>
<text x="605.5" y="353.3" font-size="16.5" font-weight="bold" font-style="italic" fill="#2a8fd0" textLength="9.6" lengthAdjust="spacingAndGlyphs">σ</text>
<text x="615.4" y="356.6" font-size="10" font-weight="bold" fill="#2a8fd0">0</text>
<circle cx="798.5" cy="312.0" r="1.35" fill="#000"/>
<circle cx="804.5" cy="312.0" r="1.35" fill="#000"/>
<circle cx="810.5" cy="312.0" r="1.35" fill="#000"/>
<text x="0" y="0" font-size="15" text-anchor="middle" transform="translate(618.8,307.3) rotate(-90)">Reward</text>
<text x="0" y="0" font-size="14" fill="#8a8a8a" textLength="80" lengthAdjust="spacingAndGlyphs" transform="translate(826.8,275) rotate(90)">Noise Std (σ)</text>
<text x="605.6" y="373.6" font-size="15.5" fill="#649dd6" textLength="116.4" lengthAdjust="spacingAndGlyphs">Quantization Noise</text>
<text x="777" y="373.6" font-size="15">Steps</text>
</svg>
<div class="cap" style="top:399.1px">
<div>Figure 2: The illustration of QeRL. (a) <b>RL via LoRA</b>: reducing trainable parameters, but does</div>
<div>not alleviate the rollout bottleneck. (b) <b>RL via QLoRA</b>: NF4 quantization with LoRA, but NF4</div>
<div>is slower than LoRA. (c) <b>QeRL</b>: NVFP4 quantization with LoRA, reducing memory and enabling</div>
<div>faster RL while matching full-parameter finetuning performance with adaptive quantization noise.</div>
<div style="width:788.6px">AQN dynamically adjusts quantization noise with an exponential scheduler, enhancing exploration.</div>
</div>
</body></html>
